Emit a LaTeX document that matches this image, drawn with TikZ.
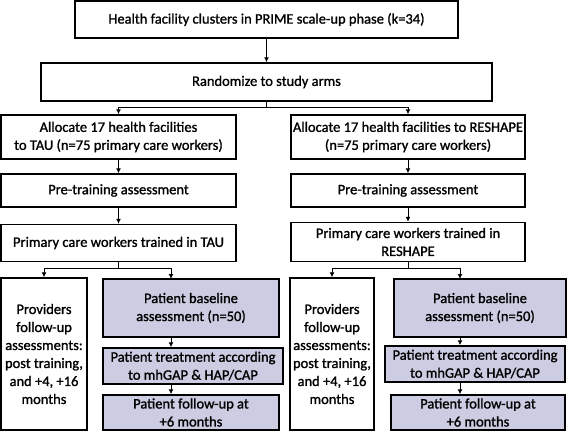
\documentclass[tikz,border=0pt]{standalone}
\usepackage{fontspec}
\setmainfont{Carlito}[RawFeature={embolden=1.2}]
\usetikzlibrary{arrows.meta}
\definecolor{shade}{RGB}{204,204,226}
\begin{document}
\begin{tikzpicture}[x=1pt,y=-1pt,
  box/.style={draw, line width=1.4pt, inner sep=0.5pt, align=center,
    font=\fontsize{14.5}{18}\selectfont},
  pbox/.style={box, fill=shade},
  conn/.style={line width=1pt},
  arr/.style={line width=1pt, -{Latex[length=5pt,width=5pt]}}]
\useasboundingbox (0,0) rectangle (567,431);
% top
\node[box, minimum width=383pt, minimum height=37pt] (b1) at (266.5,19.5) {Health facility clusters in PRIME scale-up phase (k=34)};
\node[box, minimum width=451pt, minimum height=38pt] (b2) at (266.5,82) {Randomize to study arms};
% left column
\node[box, minimum width=235pt, minimum height=44pt] (tau) at (118.5,137) {Allocate 17 health facilities\\to TAU (n=75 primary care workers)};
\node[box, minimum width=235pt, minimum height=33pt] (preL) at (118.5,190.5) {Pre-training assessment};
\node[box, minimum width=235pt, minimum height=37pt] (primL) at (118.5,243) {Primary care workers trained in TAU};
% right column
\node[box, minimum width=234pt, minimum height=44pt] (res) at (408,137) {Allocate 17 health facilities to RESHAPE\\(n=75 primary care workers)};
\node[box, minimum width=234pt, minimum height=33pt] (preR) at (408,190.5) {Pre-training assessment};
\node[box, minimum width=234pt, minimum height=39pt] (primR) at (408,242) {Primary care workers trained in\\RESHAPE};
% lower left
\node[box, minimum width=86pt, minimum height=152pt] (provL) at (44,354) {Providers\\follow-up\\assessments:\\post training,\\and +4, +16\\months};
\node[pbox, minimum width=176pt, minimum height=58pt] (baseL) at (191,308) {Patient baseline\\assessment (n=50)};
\node[pbox, minimum width=180pt, minimum height=36pt] (treatL) at (193,366) {Patient treatment according\\to mhGAP \& HAP/CAP};
\node[pbox, minimum width=176pt, minimum height=35pt] (fupL) at (191,412.5) {Patient follow-up at\\+6 months};
% lower right
\node[box, minimum width=84pt, minimum height=152pt] (provR) at (332,354) {Providers\\follow-up\\assessments:\\post training,\\and +4, +16\\months};
\node[pbox, minimum width=172pt, minimum height=58pt] (baseR) at (480,308) {Patient baseline\\assessment (n=50)};
\node[pbox, minimum width=180pt, minimum height=36pt] (treatR) at (475,364) {Patient treatment according\\to mhGAP \& HAP/CAP};
\node[pbox, minimum width=174pt, minimum height=35pt] (fupR) at (478,412.5) {Patient follow-up at\\+6 months};
% connectors
\draw[arr] (b1.south) -- (b2.north);
\coordinate (s1) at (266.5,107);
\draw[conn] (b2.south) -- (s1);
\draw[arr] (s1) -| (tau.north);
\draw[arr] (s1) -| (res.north);
\draw[arr] (tau) -- (preL);
\draw[arr] (preL) -- (primL);
\draw[arr] (res) -- (preR);
\draw[arr] (preR) -- (primR);
\coordinate (s2) at (118.5,268);
\draw[conn] (primL.south) -- (s2);
\draw[arr] (s2) -| (provL.north);
\coordinate (tL) at (171,279);
\draw[arr] (s2) -| (tL);
\coordinate (s3) at (408,268);
\draw[conn] (primR.south) -- (s3);
\draw[arr] (s3) -| (provR.north);
\coordinate (tR) at (460,279);
\draw[arr] (s3) -| (tR);
\draw[arr] (baseL.south -| tL) -- (treatL.north -| tL);
\draw[arr] (treatL.south -| tL) -- (fupL.north -| tL);
\draw[arr] (baseR.south -| tR) -- (treatR.north -| tR);
\draw[arr] (treatR.south -| tR) -- (fupR.north -| tR);
\end{tikzpicture}
\end{document}
